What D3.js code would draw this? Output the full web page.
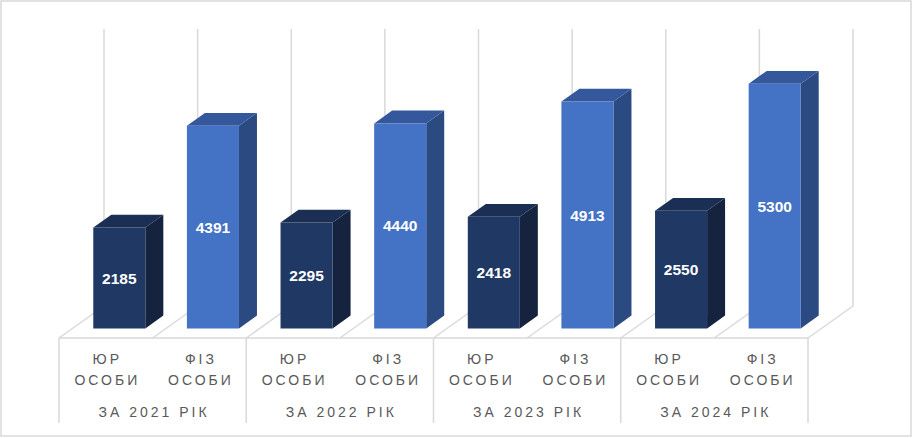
<!DOCTYPE html>
<html>
<head>
<meta charset="utf-8">
<script src="https://cdn.jsdelivr.net/npm/d3@7"></script>
<style>
  html, body { margin: 0; padding: 0; background: #fff; }
  svg { display: block; }
</style>
</head>
<body>
<div id="chart"></div>
<script>
// data
const years = ["ЗА 2021 РІК", "ЗА 2022 РІК", "ЗА 2023 РІК", "ЗА 2024 РІК"];
const kinds = [["ЮР", "ОСОБИ"], ["ФІЗ", "ОСОБИ"]];
const yurValues = [2185, 2295, 2418, 2550];
const fizValues = [4391, 4440, 4913, 5300];
const axisMax = 6000;

const W = 913, H = 438;
const floor = { left: 59, right: 808, front: 338 };
const depth = { dx: 45, dy: 32 };   // back of floor
const barDepth = { z0: 0.3, z1: 0.7 };
const wallHeight = 277;

const faceColors = [
  { front: "#203864", top: "#1b2f55", side: "#15233f" },
  { front: "#4472c4", top: "#34589b", side: "#2b4a82" }
];
const gridColor = "#d9d9d9";

// flatten to one bar per sub category
let bars = [];
years.forEach((y, i) => {
  bars.push({ key: i + "-0", year: i, kind: 0, value: yurValues[i] });
  bars.push({ key: i + "-1", year: i, kind: 1, value: fizValues[i] });
});

let x = d3.scaleBand()
  .domain(bars.map(d => d.key))
  .range([floor.left, floor.right])
  .paddingInner(0.444)
  .paddingOuter(0.222);

let xGroup = d3.scaleBand()
  .domain(years)
  .range([floor.left, floor.right]);

let y = d3.scaleLinear()
  .domain([0, axisMax])
  .range([0, wallHeight]);

// projection: front x, depth z (0..1), value v
function pt(px, z, v) {
  return [px + z * depth.dx, floor.front - z * depth.dy - y(v)];
}
function poly(points) {
  return points.map(p => p.join(",")).join(" ");
}

let svg = d3.select("#chart")
  .append("svg")
  .attr("width", W)
  .attr("height", H);

// outer frame
svg.append("rect")
  .attr("x", 1).attr("y", 1)
  .attr("width", W - 3).attr("height", H - 3)
  .attr("fill", "#fff")
  .attr("stroke", gridColor)
  .attr("stroke-width", 1.5);

let step = x.step();
let boundaries = d3.range(bars.length + 1).map(i => floor.left + i * step);

/* ------------------ back wall & floor ------------------ */
let grid = svg.append("g")
  .attr("stroke", gridColor)
  .attr("stroke-width", 1.5)
  .attr("fill", "none");

grid.selectAll("line.wall")
  .data(boundaries)
  .enter()
  .append("line")
  .attr("class", "wall")
  .attr("x1", d => pt(d, 1, 0)[0])
  .attr("x2", d => pt(d, 1, 0)[0])
  .attr("y1", d => pt(d, 1, 0)[1])
  .attr("y2", d => pt(d, 1, axisMax)[1]);

grid.selectAll("line.floor")
  .data(boundaries)
  .enter()
  .append("line")
  .attr("class", "floor")
  .attr("x1", d => pt(d, 0, 0)[0])
  .attr("y1", d => pt(d, 0, 0)[1])
  .attr("x2", d => pt(d, 1, 0)[0])
  .attr("y2", d => pt(d, 1, 0)[1]);

grid.append("line")
  .attr("x1", floor.left).attr("x2", floor.right)
  .attr("y1", floor.front).attr("y2", floor.front);

// group separators below the floor
grid.selectAll("line.sep")
  .data(d3.range(years.length + 1).map(i => floor.left + i * xGroup.step()))
  .enter()
  .append("line")
  .attr("class", "sep")
  .attr("x1", d => d).attr("x2", d => d)
  .attr("y1", floor.front).attr("y2", floor.front + 85);

/* ------------------ bars ------------------ */
let barG = svg.selectAll("g.bar")
  .data(bars)
  .enter()
  .append("g")
  .attr("class", "bar");

barG.append("polygon")
  .attr("fill", d => faceColors[d.kind].side)
  .attr("points", d => {
    let r = x(d.key) + x.bandwidth();
    return poly([pt(r, barDepth.z0, 0), pt(r, barDepth.z1, 0),
                 pt(r, barDepth.z1, d.value), pt(r, barDepth.z0, d.value)]);
  });

barG.append("polygon")
  .attr("fill", d => faceColors[d.kind].top)
  .attr("points", d => {
    let l = x(d.key), r = l + x.bandwidth();
    return poly([pt(l, barDepth.z0, d.value), pt(r, barDepth.z0, d.value),
                 pt(r, barDepth.z1, d.value), pt(l, barDepth.z1, d.value)]);
  });

barG.append("polygon")
  .attr("fill", d => faceColors[d.kind].front)
  .attr("points", d => {
    let l = x(d.key), r = l + x.bandwidth();
    return poly([pt(l, barDepth.z0, 0), pt(r, barDepth.z0, 0),
                 pt(r, barDepth.z0, d.value), pt(l, barDepth.z0, d.value)]);
  });

// value labels
barG.append("text")
  .attr("x", d => pt(x(d.key) + x.bandwidth() / 2, barDepth.z0, 0)[0])
  .attr("y", d => pt(0, barDepth.z0, d.value / 2)[1])
  .attr("dy", "0.36em")
  .attr("text-anchor", "middle")
  .attr("fill", "#fff")
  .style("font-family", "'Liberation Sans', Arial, sans-serif")
  .style("font-weight", "bold")
  .style("font-size", "15.5px")
  .text(d => d.value);

/* ------------------ category labels ------------------ */
let labelStyle = sel => sel
  .attr("text-anchor", "middle")
  .attr("fill", "#595959")
  .style("font-family", "'Liberation Sans', Arial, sans-serif")
  .style("font-size", "14px")
  .style("letter-spacing", "3px");

let sub = svg.selectAll("g.sub")
  .data(bars)
  .enter()
  .append("g")
  .attr("class", "sub")
  .attr("transform", d => "translate(" + (x(d.key) + x.bandwidth() / 2 + 1.5) + ",0)");

sub.append("text")
  .attr("y", 364)
  .call(labelStyle)
  .text(d => kinds[d.kind][0]);

sub.append("text")
  .attr("y", 385)
  .call(labelStyle)
  .text(d => kinds[d.kind][1]);

svg.selectAll("text.year")
  .data(years)
  .enter()
  .append("text")
  .attr("class", "year")
  .attr("x", d => xGroup(d) + xGroup.bandwidth() / 2 + 1.5)
  .attr("y", 417)
  .call(labelStyle)
  .text(d => d);
</script>
</body>
</html>
